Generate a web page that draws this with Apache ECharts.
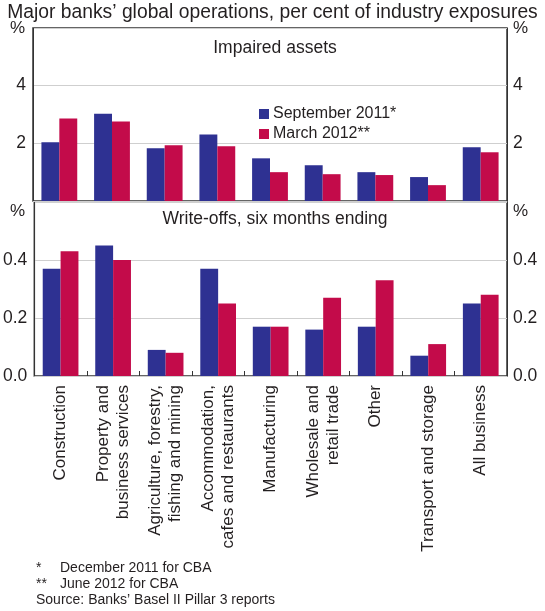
<!DOCTYPE html>
<html>
<head>
<meta charset="utf-8">
<script src="https://cdn.jsdelivr.net/npm/echarts@6/dist/echarts.min.js"></script>
<style>html,body{margin:0;padding:0;background:#fff}#c{width:545px;height:611px}</style>
</head>
<body>
<div id="c"></div>
<script>
const categories = [
  'Construction',
  'Property and\nbusiness services',
  'Agriculture, forestry,\nfishing and mining',
  'Accommodation,\ncafes and restaurants',
  'Manufacturing',
  'Wholesale and\nretail trade',
  'Other',
  'Transport and storage',
  'All business'
];
const seriesNames = ['September 2011*', 'March 2012**'];
const impairedSep11 = [2.04, 3.03, 1.83, 2.31, 1.48, 1.24, 1.00, 0.83, 1.86];
const impairedMar12 = [2.86, 2.76, 1.93, 1.90, 1.00, 0.93, 0.90, 0.55, 1.69];
const writeoffSep11 = [0.37, 0.45, 0.09, 0.37, 0.17, 0.16, 0.17, 0.07, 0.25];
const writeoffMar12 = [0.43, 0.40, 0.08, 0.25, 0.17, 0.27, 0.33, 0.11, 0.28];
const topTicks = ['2', '4'];
const bottomTicks = ['0.0', '0.2', '0.4'];

const FONT = 'Liberation Sans, Arial, sans-serif';
const TXT = '#231f20';
const FRAME = '#333';
const BLUE = '#2e3192';
const RED = '#c30b4a';

const chart = echarts.init(document.getElementById('c'), null, {renderer: 'canvas'});

function yAxis(grid, pos, max, interval, fmt) {
  return {
    type: 'value', gridIndex: grid, position: pos, min: 0, max: max, interval: interval,
    axisLine: {show: false}, axisTick: {show: false},
    splitLine: {show: pos === 'left', lineStyle: {color: '#cfcfcf', width: 1.2}},
    axisLabel: {
      fontFamily: FONT, fontSize: 17.5, color: TXT, margin: pos === 'left' ? 7 : 6,
      formatter: fmt
    }
  };
}
const topFmt = v => { const s = String(Math.round(v)); return topTicks.includes(s) ? s : ''; };
const botFmt = v => { const s = v.toFixed(1); return bottomTicks.includes(s) ? s : ''; };

const option = {
  animation: false,
  backgroundColor: '#fff',
  textStyle: {fontFamily: FONT},
  title: [
    {text: 'Major banks\u2019 global operations, per cent of industry exposures', left: 'center', top: -2,
      textStyle: {fontFamily: FONT, fontSize: 19.3, fontWeight: 'normal', color: TXT}},
    {text: 'Impaired assets', left: 270, textAlign: 'center', top: 34,
      textStyle: {fontFamily: FONT, fontSize: 17.5, fontWeight: 'normal', color: TXT}},
    {text: 'Write-offs, six months ending', left: 270, textAlign: 'center', top: 205,
      textStyle: {fontFamily: FONT, fontSize: 17.5, fontWeight: 'normal', color: TXT}}
  ],
  legend: {
    data: seriesNames, left: 254, top: 101, orient: 'vertical',
    itemWidth: 10, itemHeight: 10, itemGap: 4, icon: 'rect',
    textStyle: {fontFamily: FONT, fontSize: 16, color: TXT, padding: [0, 0, 0, -1]}
  },
  grid: [
    {left: 33, right: 38, top: 28, height: 173, show: true, borderColor: FRAME, borderWidth: 1.5, backgroundColor: 'transparent'},
    {left: 33, right: 38, top: 202, height: 174, show: true, borderColor: FRAME, borderWidth: 1.5, backgroundColor: 'transparent'}
  ],
  xAxis: [
    {type: 'category', gridIndex: 0, data: categories,
      axisLine: {show: false}, axisTick: {show: false}, axisLabel: {show: false},
      splitLine: {show: true, interval: (i) => i === 8, lineStyle: {color: FRAME, width: 1}}},
    {type: 'category', gridIndex: 1, data: categories,
      axisLine: {show: false},
      axisTick: {show: true, inside: true, length: 5, interval: 0, lineStyle: {color: FRAME, width: 1}},
      splitLine: {show: true, interval: (i) => i === 8, lineStyle: {color: FRAME, width: 1}},
      axisLabel: {interval: 0, rotate: 90, margin: 9, fontFamily: FONT, fontSize: 17, lineHeight: 20, color: TXT}}
  ],
  yAxis: [
    yAxis(0, 'left', 6, 2, topFmt), yAxis(0, 'right', 6, 2, topFmt),
    yAxis(1, 'left', 0.6, 0.2, botFmt), yAxis(1, 'right', 0.6, 0.2, botFmt)
  ],
  series: [
    {name: seriesNames[0], type: 'bar', xAxisIndex: 0, yAxisIndex: 0, data: impairedSep11, itemStyle: {color: BLUE}, barGap: '0%', barCategoryGap: '32%'},
    {name: seriesNames[1], type: 'bar', xAxisIndex: 0, yAxisIndex: 0, data: impairedMar12, itemStyle: {color: RED}, barGap: '0%', barCategoryGap: '32%'},
    {name: seriesNames[0], type: 'bar', xAxisIndex: 1, yAxisIndex: 2, data: writeoffSep11, itemStyle: {color: BLUE}, barGap: '0%', barCategoryGap: '32%'},
    {name: seriesNames[1], type: 'bar', xAxisIndex: 1, yAxisIndex: 2, data: writeoffMar12, itemStyle: {color: RED}, barGap: '0%', barCategoryGap: '32%'}
  ],
  graphic: [
    {type: 'text', left: 10, top: 20, style: {text: '%', font: '17px ' + FONT, fill: TXT}},
    {type: 'text', left: 513, top: 20, style: {text: '%', font: '17px ' + FONT, fill: TXT}},
    {type: 'text', left: 10, top: 203, style: {text: '%', font: '17px ' + FONT, fill: TXT}},
    {type: 'text', left: 513, top: 203, style: {text: '%', font: '17px ' + FONT, fill: TXT}},
    {type: 'text', left: 36, top: 561, style: {text: '*', font: '14px ' + FONT, fill: TXT}},
    {type: 'text', left: 60, top: 561, style: {text: 'December 2011 for CBA', font: '14px ' + FONT, fill: TXT}},
    {type: 'text', left: 36, top: 577, style: {text: '**', font: '14px ' + FONT, fill: TXT}},
    {type: 'text', left: 60, top: 577, style: {text: 'June 2012 for CBA', font: '14px ' + FONT, fill: TXT}},
    {type: 'text', left: 36, top: 593, style: {text: 'Source: Banks\u2019 Basel II Pillar 3 reports', font: '14px ' + FONT, fill: TXT}}
  ]
};
chart.setOption(option);
</script>
</body>
</html>
